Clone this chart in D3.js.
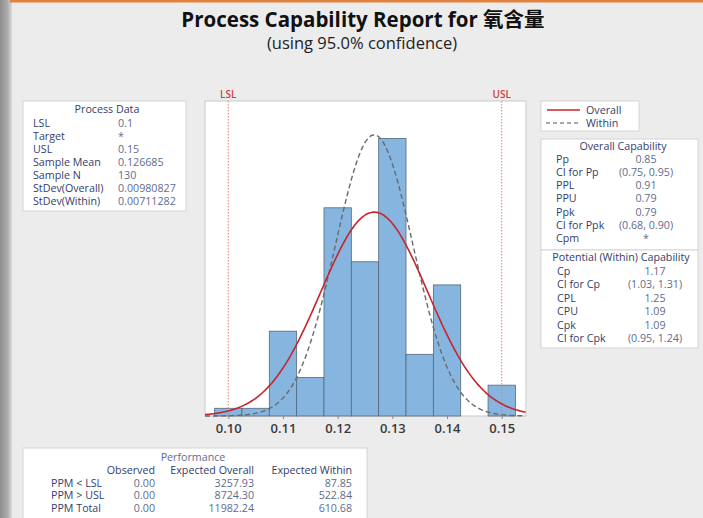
<!DOCTYPE html>
<html>
<head>
<meta charset="utf-8">
<script src="https://cdn.jsdelivr.net/npm/d3@7"></script>
<style>
  html, body { margin: 0; padding: 0; background: #ececec; }
  svg { display: block; }
</style>
</head>
<body>
<div id="chart"></div>
<script>
// ---------- DATA ----------
const binCenters = [0.100, 0.105, 0.110, 0.115, 0.120, 0.125, 0.130, 0.135, 0.140, 0.145, 0.150];
const binCounts  = [1, 1, 11, 5, 27, 20, 36, 8, 17, 0, 4];
const binWidth = 0.005;
const xTicks = [0.10, 0.11, 0.12, 0.13, 0.14, 0.15];
const LSL = 0.1, USL = 0.15;
const sampleMean = 0.126685, sampleN = 130;
const sdOverall = 0.00980827, sdWithin = 0.00711282;

const processLabels = ["LSL", "Target", "USL", "Sample Mean", "Sample N", "StDev(Overall)", "StDev(Within)"];
const processValues = ["0.1", "*", "0.15", "0.126685", "130", "0.00980827", "0.00711282"];

const overallLabels = ["Pp", "CI for Pp", "PPL", "PPU", "Ppk", "CI for Ppk", "Cpm"];
const overallValues = ["0.85", "(0.75, 0.95)", "0.91", "0.79", "0.79", "(0.68, 0.90)", "*"];

const withinLabels = ["Cp", "CI for Cp", "CPL", "CPU", "Cpk", "CI for Cpk"];
const withinValues = ["1.17", "(1.03, 1.31)", "1.25", "1.09", "1.09", "(0.95, 1.24)"];

const perfHeaders = ["Observed", "Expected Overall", "Expected Within"];
const perfLabels = ["PPM < LSL", "PPM > USL", "PPM Total"];
const perfObserved = ["0.00", "0.00", "0.00"];
const perfOverall = ["3257.93", "8724.30", "11982.24"];
const perfWithin = ["87.85", "522.84", "610.68"];

// ---------- SETUP ----------
const W = 703, H = 518;
const svg = d3.select("#chart").append("svg").attr("width", W).attr("height", H);
const FONT = "'Open Sans', 'Noto Sans', 'Noto Sans CJK SC', sans-serif";
const FS = 10.7;
const labelColor = "#34406a";
const valueColor = "#5f6c8e";

svg.append("rect").attr("width", W).attr("height", H).attr("fill", "#ececec");

// scanned paper edge on the left
const defs = svg.append("defs");
const g1 = defs.append("linearGradient").attr("id", "edge").attr("x1", 0).attr("x2", 1);
g1.append("stop").attr("offset", "0%").attr("stop-color", "#8e8e8e");
g1.append("stop").attr("offset", "60%").attr("stop-color", "#a8a8a8");
g1.append("stop").attr("offset", "100%").attr("stop-color", "#dcdcdc");
svg.append("rect").attr("x", 0).attr("y", 0).attr("width", 12).attr("height", H).attr("fill", "url(#edge)");

// orange top line
svg.append("rect").attr("x", 10).attr("y", 0).attr("width", W - 10).attr("height", 2.5).attr("fill", "#e3813f");

// Title
svg.append("text").attr("x", 363).attr("y", 27).attr("text-anchor", "middle")
  .attr("font-family", FONT).attr("font-weight", 700).attr("font-size", 20.5).attr("fill", "#111")
  .text("Process Capability Report for 氧含量");
svg.append("text").attr("x", 362).attr("y", 49).attr("text-anchor", "middle")
  .attr("font-family", FONT).attr("font-size", 16.5).attr("fill", "#222")
  .text("(using 95.0% confidence)");

// ---------- HISTOGRAM ----------
const plot = { left: 205, top: 101, right: 526, bottom: 416 };
const x = d3.scaleLinear().domain([0.09574, 0.15444]).range([plot.left, plot.right]);
const y = d3.scaleLinear().domain([0, 40.85]).range([plot.bottom, plot.top]);

svg.append("rect").attr("x", plot.left).attr("y", plot.top)
  .attr("width", plot.right - plot.left).attr("height", plot.bottom - plot.top)
  .attr("fill", "#ffffff").attr("stroke", "#c9c9c9").attr("stroke-width", 1);

const clip = defs.append("clipPath").attr("id", "plotclip");
clip.append("rect").attr("x", plot.left).attr("y", plot.top)
  .attr("width", plot.right - plot.left).attr("height", plot.bottom - plot.top + 1);

const bars = binCenters.map((c, i) => ({ c, n: binCounts[i] })).filter(d => d.n > 0);
svg.append("g").selectAll("rect").data(bars).join("rect")
  .attr("x", d => x(d.c - binWidth / 2))
  .attr("width", d => x(d.c + binWidth / 2) - x(d.c - binWidth / 2))
  .attr("y", d => y(d.n))
  .attr("height", d => y(0) - y(d.n))
  .attr("fill", "#86b5df").attr("stroke", "#56687a").attr("stroke-width", 0.8);

// spec limit lines
[[LSL, "LSL"], [USL, "USL"]].forEach(([v, t]) => {
  svg.append("line").attr("x1", x(v)).attr("x2", x(v)).attr("y1", plot.top).attr("y2", plot.bottom)
    .attr("stroke", "#e77b7b").attr("stroke-width", 1).attr("stroke-dasharray", "1.5,1.5");
  svg.append("text").attr("x", x(v)).attr("y", 98).attr("text-anchor", "middle")
    .attr("font-family", FONT).attr("font-size", 10).attr("font-weight", 600).attr("fill", "#d23c3c")
    .text(t);
});

// normal curves
const pdf = (v, m, s) => Math.exp(-0.5 * ((v - m) / s) ** 2) / (s * Math.sqrt(2 * Math.PI));
const xs = d3.range(0.09574, 0.15445, 0.0002);
const line = d3.line().x(d => x(d[0])).y(d => y(d[1])).curve(d3.curveBasis);
const scale = sampleN * binWidth;
const cg = svg.append("g").attr("clip-path", "url(#plotclip)");
cg.append("path").datum(xs.map(v => [v, scale * pdf(v, sampleMean, sdWithin)]))
  .attr("d", line).attr("fill", "none").attr("stroke", "#6a6a6a").attr("stroke-width", 1.4)
  .attr("stroke-dasharray", "5,3");
cg.append("path").datum(xs.map(v => [v, scale * pdf(v, sampleMean, sdOverall)]))
  .attr("d", line).attr("fill", "none").attr("stroke", "#c8242c").attr("stroke-width", 1.6);

// x axis
const xAxis = d3.axisBottom(x).tickValues(xTicks).tickFormat(d3.format(".2f")).tickSize(3).tickPadding(5);
const ax = svg.append("g").attr("transform", `translate(0,${plot.bottom})`).call(xAxis);
ax.select(".domain").remove();
ax.selectAll(".tick line").attr("stroke", "#888");
ax.selectAll("text").attr("font-family", FONT).attr("font-size", 13).attr("font-weight", 600).attr("fill", "#3a3a3a");

// ---------- PROCESS DATA ----------
svg.append("rect").attr("x", 23).attr("y", 101).attr("width", 163).attr("height", 110)
  .attr("fill", "#fff").attr("stroke", "#d4d4d4");
svg.append("text").attr("x", 107).attr("y", 113).attr("text-anchor", "middle")
  .attr("font-family", FONT).attr("font-size", FS).attr("fill", labelColor).text("Process Data");
processLabels.forEach((t, i) => {
  svg.append("text").attr("x", 33).attr("y", 126.5 + i * 13.1)
    .attr("font-family", FONT).attr("font-size", FS).attr("fill", labelColor).text(t);
  svg.append("text").attr("x", 118).attr("y", 126.5 + i * 13.1)
    .attr("font-family", FONT).attr("font-size", FS).attr("fill", valueColor).text(processValues[i]);
});

// ---------- LEGEND ----------
svg.append("rect").attr("x", 541).attr("y", 101).attr("width", 98).attr("height", 30)
  .attr("fill", "#fff").attr("stroke", "#d4d4d4");
svg.append("line").attr("x1", 547).attr("x2", 580).attr("y1", 110).attr("y2", 110)
  .attr("stroke", "#c8242c").attr("stroke-width", 1.3);
svg.append("line").attr("x1", 546).attr("x2", 580).attr("y1", 123).attr("y2", 123)
  .attr("stroke", "#555").attr("stroke-width", 1.1).attr("stroke-dasharray", "4,3");
svg.append("text").attr("x", 586).attr("y", 114).attr("font-family", FONT).attr("font-size", FS)
  .attr("fill", labelColor).text("Overall");
svg.append("text").attr("x", 586).attr("y", 127).attr("font-family", FONT).attr("font-size", FS)
  .attr("fill", labelColor).text("Within");

// ---------- OVERALL CAPABILITY ----------
svg.append("rect").attr("x", 541).attr("y", 139).attr("width", 157).attr("height", 111)
  .attr("fill", "#fff").attr("stroke", "#d4d4d4");
svg.append("text").attr("x", 623).attr("y", 150).attr("text-anchor", "middle")
  .attr("font-family", FONT).attr("font-size", FS).attr("fill", labelColor).text("Overall Capability");
overallLabels.forEach((t, i) => {
  svg.append("text").attr("x", 556).attr("y", 162.5 + i * 13.3)
    .attr("font-family", FONT).attr("font-size", FS).attr("fill", labelColor).text(t);
  svg.append("text").attr("x", 646).attr("y", 162.5 + i * 13.3).attr("text-anchor", "middle")
    .attr("font-family", FONT).attr("font-size", FS).attr("fill", valueColor).text(overallValues[i]);
});

// ---------- POTENTIAL (WITHIN) CAPABILITY ----------
svg.append("rect").attr("x", 541).attr("y", 250).attr("width", 157).attr("height", 98)
  .attr("fill", "#fff").attr("stroke", "#d4d4d4");
svg.append("text").attr("x", 621).attr("y", 260.5).attr("text-anchor", "middle")
  .attr("font-family", FONT).attr("font-size", FS).attr("fill", labelColor).text("Potential (Within) Capability");
withinLabels.forEach((t, i) => {
  svg.append("text").attr("x", 557).attr("y", 274.5 + i * 13.5)
    .attr("font-family", FONT).attr("font-size", FS).attr("fill", labelColor).text(t);
  svg.append("text").attr("x", 655).attr("y", 274.5 + i * 13.5).attr("text-anchor", "middle")
    .attr("font-family", FONT).attr("font-size", FS).attr("fill", valueColor).text(withinValues[i]);
});

// ---------- PERFORMANCE ----------
svg.append("rect").attr("x", 23).attr("y", 448).attr("width", 344).attr("height", 75)
  .attr("fill", "#fff").attr("stroke", "#d4d4d4");
svg.append("text").attr("x", 193).attr("y", 461).attr("text-anchor", "middle")
  .attr("font-family", FONT).attr("font-size", FS).attr("fill", valueColor).text("Performance");
const colRight = [155, 254, 352];
perfHeaders.forEach((t, i) => {
  svg.append("text").attr("x", colRight[i]).attr("y", 473.5).attr("text-anchor", "end")
    .attr("font-family", FONT).attr("font-size", FS).attr("fill", labelColor).text(t);
});
perfLabels.forEach((t, i) => {
  const yy = 486.5 + i * 12.5;
  svg.append("text").attr("x", 51).attr("y", yy)
    .attr("font-family", FONT).attr("font-size", FS).attr("fill", labelColor).text(t);
  [perfObserved[i], perfOverall[i], perfWithin[i]].forEach((v, j) => {
    svg.append("text").attr("x", colRight[j]).attr("y", yy).attr("text-anchor", "end")
      .attr("font-family", FONT).attr("font-size", FS).attr("fill", valueColor).text(v);
  });
});
</script>
</body>
</html>
